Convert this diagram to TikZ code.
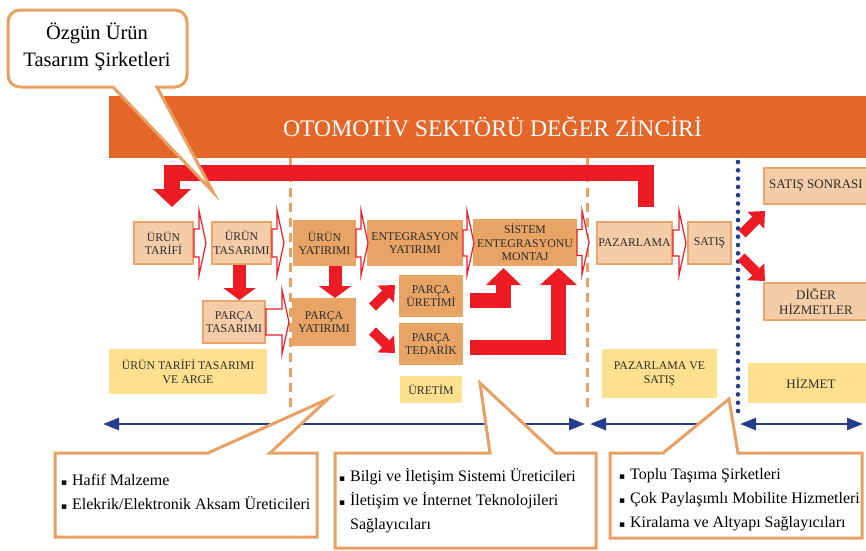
\documentclass[tikz,border=0pt]{standalone}
\usepackage{fontspec}
\setmainfont{Liberation Serif}
\newfontfamily\symfont{DejaVu Sans}
\usepackage{tikz}
\usetikzlibrary{arrows.meta, positioning}
\usepackage{xcolor}
\definecolor{bannerorange}{RGB}{228, 102, 40}
\definecolor{chainred}{RGB}{237, 28, 36}
\definecolor{lightbox}{RGB}{245, 204, 168}
\definecolor{lightedge}{RGB}{236, 164, 106}
\definecolor{darkbox}{RGB}{232, 164, 101}
\definecolor{phaseyellow}{RGB}{254, 224, 142}
\definecolor{calloutedge}{RGB}{233, 160, 98}
\definecolor{timelineblue}{RGB}{38, 61, 143}
\definecolor{labelgray}{RGB}{45, 45, 45}

\newcommand{\sq}{{\symfont\fontsize{9}{9}\selectfont\char"25AA}\hspace{0.3em}}
\newcommand{\hollowarrow}[4]{%
  \draw[hollow, shift={#1}] (0,-#3) -- (#2,-#3) -- (#2,-#4) -- ++(7,#4) -- (#2,#4) -- (#2,#3) -- (0,#3) -- cycle;}

\tikzset{
  stage/.style={draw=lightedge, line width=2pt, fill=lightbox, text=labelgray, align=center,
    font=\fontsize{11.8}{13.5}\selectfont, inner sep=1pt},
  invest/.style={stage, draw=darkbox, fill=darkbox},
  phase/.style={fill=phaseyellow, text=labelgray, align=center, font=\fontsize{11.8}{14}\selectfont, inner sep=1pt},
  bigtext/.style={font=\fontsize{13}{15}\selectfont},
  hollow/.style={draw=chainred, line width=1.2pt, fill=white, line join=miter},
  flow/.style={chainred, line width=10pt, -{Triangle[width=23pt, length=13pt]}},
  callout/.style={draw=calloutedge, line width=3pt, fill=white, line join=miter},
  bullets/.style={anchor=north west, align=left, inner sep=0pt, font=\fontsize{16}{24}\selectfont},
  divider/.style={calloutedge, line width=3pt, dash pattern=on 9pt off 6pt},
  span/.style={timelineblue, line width=2.5pt, {Triangle[width=12pt, length=16pt]}-{Triangle[width=12pt, length=16pt]}}
}

\begin{document}
\begin{tikzpicture}[x=1pt, y=-1pt]
    \clip (0,0) rectangle (866,550);

    \node[fill=bannerorange, text=white, minimum width=767pt, minimum height=62pt,
      font=\fontsize{23.7}{28}\selectfont] (banner) at (492.5,127) {OTOMOTİV SEKTÖRÜ DEĞER ZİNCİRİ};

    % phase borders
    \draw[divider] (290,158) -- (290,412);
    \draw[divider] (587,158) -- (587,412);
    \foreach \y in {162,170.3,...,412}
        \fill[timelineblue] (738,\y) circle (2.3pt);

    % feedback loop
    \coordinate (loopstart) at (645.5,207);
    \coordinate (loopend) at (172,207);
    \draw[chainred, line width=16pt, line join=miter, -{Triangle[width=37pt, length=18pt]}]
      (loopstart) |- (172,172.5) -- (loopend);

    % chain boxes
    \node[stage, minimum width=59pt, minimum height=42pt] (tarifi) at (163.5,243) {ÜRÜN\\TARİFİ};
    \node[stage, minimum width=59pt, minimum height=42pt] (tasarim) at (241.5,243) {ÜRÜN\\TASARIMI};
    \node[invest, minimum width=61pt, minimum height=44pt] (uyat) at (324.5,243) {ÜRÜN\\YATIRIMI};
    \node[invest, minimum width=94pt, minimum height=44pt] (entyat) at (415,243) {ENTEGRASYON\\YATIRIMI};
    \node[invest, minimum width=102pt, minimum height=45pt] (sistem) at (525,242.5) {SİSTEM\\ENTEGRASYONU\\MONTAJ};
    \node[stage, minimum width=75pt, minimum height=42pt] (pazar) at (634.5,243) {PAZARLAMA};
    \node[stage, minimum width=43pt, minimum height=42pt] (satis) at (709.5,243) {SATIŞ};
    \node[stage, bigtext, minimum width=104pt, minimum height=36pt] (sonrasi) at (816,186) {SATIŞ SONRASI};
    \node[stage, bigtext, minimum width=104pt, minimum height=37pt] (diger) at (816,301.5) {DİĞER\\HİZMETLER};
    \node[stage, minimum width=62pt, minimum height=42pt] (ptas) at (234,322) {PARÇA\\TASARIMI};
    \node[invest, minimum width=62pt, minimum height=46pt] (pyat) at (324,322) {PARÇA\\YATIRIMI};
    \node[invest, minimum width=62pt, minimum height=40pt] (puret) at (431,296) {PARÇA\\ÜRETİMİ};
    \node[invest, minimum width=62pt, minimum height=40pt] (pted) at (431,344) {PARÇA\\TEDARİK};

    % phase labels
    \node[phase, minimum width=158pt, minimum height=45pt] (arge) at (188,371.5) {ÜRÜN TARİFİ TASARIMI\\VE ARGE};
    \node[phase, minimum width=62pt, minimum height=27pt] (uretim) at (431,389.5) {ÜRETİM};
    \node[phase, minimum width=115pt, minimum height=49pt] (pzs) at (659.5,373.5) {PAZARLAMA VE\\SATIŞ};
    \node[phase, bigtext, minimum width=126pt, minimum height=40pt] (hizmet) at (811,383) {HİZMET};

    % hollow step arrows
    \hollowarrow{(tarifi.east)}{5}{14}{32.5}
    \hollowarrow{(tasarim.east)}{5}{14}{32.5}
    \hollowarrow{(uyat.east)}{5}{14}{32.5}
    \hollowarrow{(entyat.east)}{4}{13}{32}
    \hollowarrow{(sistem.east)}{5}{13}{32}
    \hollowarrow{(pazar.east)}{6}{13}{32.5}
    \hollowarrow{(ptas.east)}{16}{13}{32}

    % solid red flows
    \draw[chainred, line width=13pt, -{Triangle[width=32pt, length=12pt]}]
      ([xshift=-2pt]tasarim.south) -- ([xshift=-2pt]tasarim.south |- ptas.north);
    \draw[chainred, line width=13pt, -{Triangle[width=32pt, length=12pt]}]
      ([xshift=10.5pt]uyat.south) -- ([xshift=10.5pt]uyat.south |- pyat.north);
    \coordinate (upstart) at (372.5,307);
    \coordinate (upend) at (395,285);
    \coordinate (downstart) at (372.5,331);
    \coordinate (downend) at (395,353);
    \draw[flow] (upstart) -- (upend);
    \draw[flow] (downstart) -- (downend);
    \coordinate (uretout) at (470,300);
    \coordinate (montajin) at (503.5,268);
    \draw[chainred, line width=15pt, line join=miter, -{Triangle[width=34pt, length=17pt]}]
      (uretout) -| (montajin);
    \coordinate (tedout) at (470,347.5);
    \coordinate (montajin2) at (558.5,268);
    \draw[chainred, line width=15pt, line join=miter, -{Triangle[width=36pt, length=17pt]}]
      (tedout) -| (montajin2);
    \coordinate (satisup) at (742,234);
    \coordinate (sonrasiin) at (765,211);
    \coordinate (satisdown) at (741,257);
    \coordinate (digerin) at (765,281);
    \draw[flow] (satisup) -- (sonrasiin);
    \draw[flow] (satisdown) -- (digerin);

    % timeline
    \coordinate (t0) at (103,424);
    \coordinate (t1) at (585,424);
    \coordinate (t2) at (590,424);
    \coordinate (t3) at (733,424);
    \coordinate (t4) at (740,424);
    \coordinate (t5) at (863,424);
    \draw[span] (t0) -- (t1);
    \draw[span] (t2) -- (t3);
    \draw[span] (t4) -- (t5);

    % callouts
    \draw[callout] (55,453) -- (208,453) -- (328,399) -- (270,453) -- (317,453) -- (317,537) -- (55,537) -- cycle;
    \node[bullets] (malzeme) at (61,474.5) {\sq Hafif Malzeme\\\sq Elekrik/Elektronik Aksam Üreticileri};
    \draw[callout] (335,453) -- (490,453) -- (480,383) -- (555,453) -- (596,453) -- (596,548) -- (335,548) -- cycle;
    \node[bullets] (bilgi) at (339,468) {\sq Bilgi ve İletişim Sistemi Üreticileri\\\sq İletişim ve İnternet Teknolojileri\\\phantom{\sq}Sağlayıcıları};
    \draw[callout] (610,453) -- (663,453) -- (729,399) -- (738,453) -- (862,453) -- (862,538) -- (610,538) -- cycle;
    \node[bullets] (mobilite) at (619,468.5) {\sq Toplu Taşıma Şirketleri\\\sq Çok Paylaşımlı Mobilite Hizmetleri\\\sq Kiralama ve Altyapı Sağlayıcıları};

    \draw[callout] (113,87) [rounded corners=12pt] -- (8,87) -- (8,10) -- (187,10) -- (187,87) [sharp corners] -- (157,87) -- (213,192) -- cycle;
    \node[align=center, font=\fontsize{20.5}{27}\selectfont] (ozgun) at (97,47) {Özgün Ürün\\Tasarım Şirketleri};
\end{tikzpicture}
\end{document}
